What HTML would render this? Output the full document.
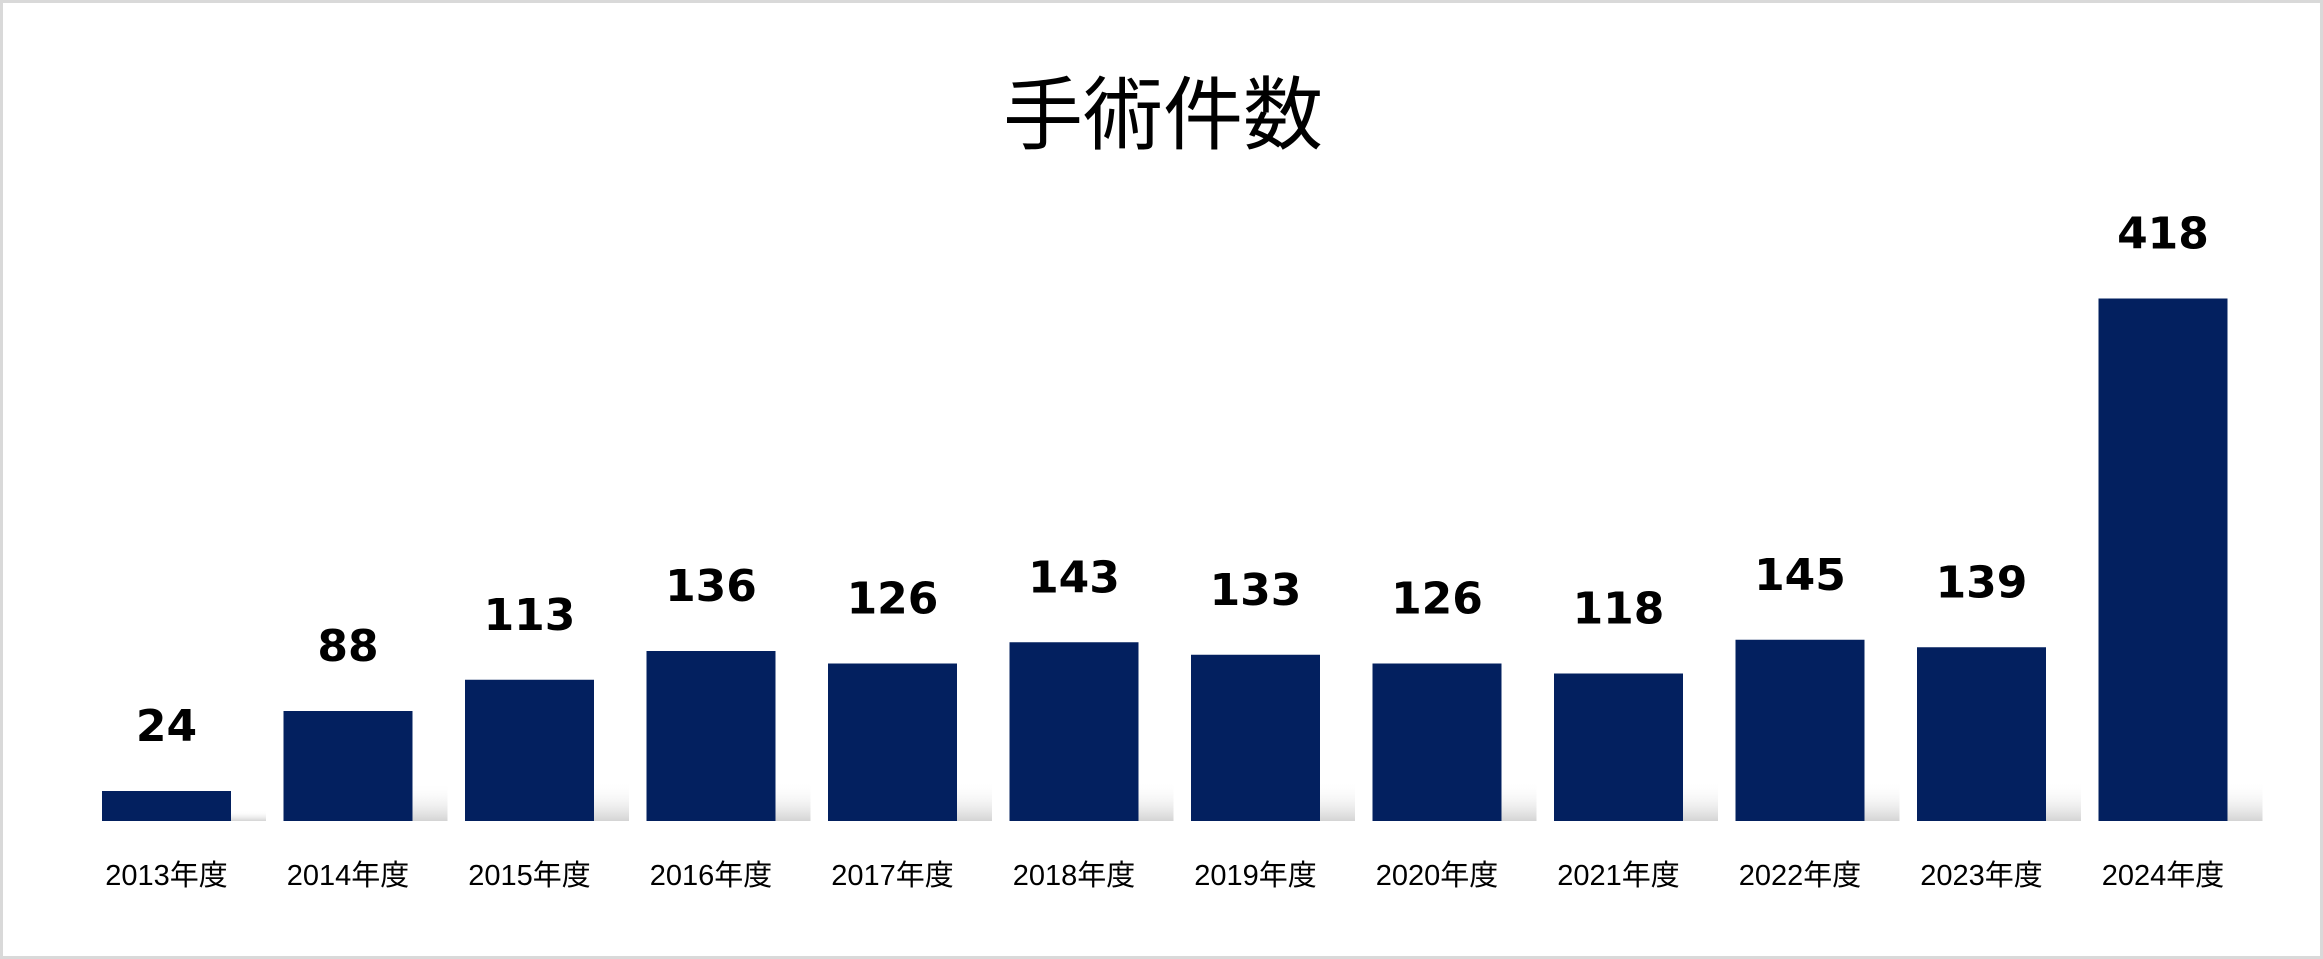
<!DOCTYPE html>
<html><head><meta charset="utf-8"><style>
html,body{margin:0;padding:0;background:#fff}
#wrap{position:relative;width:2323px;height:959px;box-sizing:border-box;border:3px solid #d9d9d9;background:#fff;overflow:hidden}
svg{position:absolute;left:0;top:0}
</style></head><body>
<div id="wrap">
<svg id="chart" width="2323" height="959">
<defs>
<linearGradient id="sh" x1="0" y1="0" x2="0" y2="1">
<stop offset="0" stop-color="#fff" stop-opacity="0"/><stop offset="1" stop-color="#cfcfcf" stop-opacity="0.9"/>
</linearGradient>
</defs>
<text x="1160" y="140" text-anchor="middle" font-family="'Liberation Sans','Noto Sans CJK JP',sans-serif" font-size="80" fill="#000">手術件数</text>
<g id="bars"></g>
</svg>
</div>
<script>
const categories=["2013年度","2014年度","2015年度","2016年度","2017年度","2018年度","2019年度","2020年度","2021年度","2022年度","2023年度","2024年度"];
const values=[24,88,113,136,126,143,133,126,118,145,139,418];
const valueLabels=["24","88","113","136","126","143","133","126","118","145","139","418"];
const NS="http://www.w3.org/2000/svg";
const baseY=818, pxPerUnit=1.25, firstCenter=163.5, step=181.5, barW=129;
function xScale(i){return firstCenter+i*step;}
function yScale(v){return baseY-v*pxPerUnit;}
const g=document.getElementById('bars');
values.forEach((v,i)=>{
  const cx=xScale(i), top=yScale(v);
  const s=document.createElementNS(NS,'rect');
  
  
  const sh=Math.min(40,(baseY-top)*0.35);
  s.setAttribute('x',cx+barW/2-10);s.setAttribute('y',baseY-sh);s.setAttribute('width',45);s.setAttribute('height',sh);
  s.setAttribute('fill','url(#sh)');
  g.appendChild(s);
  const r=document.createElementNS(NS,'rect');
  
  
  r.setAttribute('x',cx-barW/2);r.setAttribute('y',top);r.setAttribute('width',barW);r.setAttribute('height',baseY-top);
  r.setAttribute('fill','#03205f');
  g.appendChild(r);
  const t=document.createElementNS(NS,'text');
  
  
  t.setAttribute('x',cx);t.setAttribute('y',top-50);t.setAttribute('text-anchor','middle');
  t.setAttribute('font-family',"'DejaVu Sans',sans-serif");t.setAttribute('font-weight','bold');t.setAttribute('font-size','44');
  t.textContent=valueLabels[i];
  g.appendChild(t);
  const c=document.createElementNS(NS,'text');
  
  
  c.setAttribute('x',cx);c.setAttribute('y',882);c.setAttribute('text-anchor','middle');
  c.setAttribute('font-family',"'Liberation Sans','Noto Sans CJK JP',sans-serif");c.setAttribute('font-size','29');
  c.textContent=categories[i];
  g.appendChild(c);
});
</script>
</body></html>
